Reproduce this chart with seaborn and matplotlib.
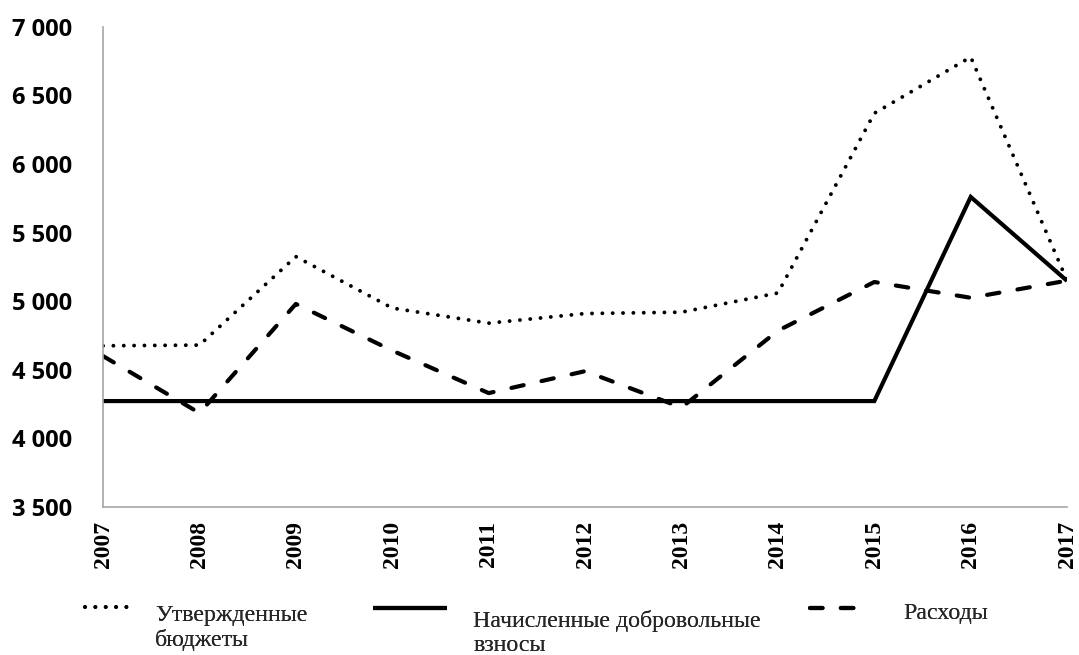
import matplotlib
matplotlib.use("Agg")
import matplotlib.pyplot as plt
import seaborn as sns
import pandas as pd

years = [2007, 2008, 2009, 2010, 2011, 2012, 2013, 2014, 2015, 2016, 2017]
budgets = [4675, 4680, 5325, 4950, 4840, 4910, 4920, 5060, 6370, 6780, 5150]
assessed = [4272, 4272, 4272, 4272, 4272, 4272, 4272, 4272, 4272, 5760, 5148]
expenses = [4600, 4185, 4980, 4640, 4330, 4490, 4225, 4785, 5140, 5025, 5150]

series_names = ["Утвержденные\nбюджеты", "Начисленные добровольные\nвзносы", "Расходы"]
y_ticks = [3500, 4000, 4500, 5000, 5500, 6000, 6500, 7000]
y_tick_labels = ["3 500", "4 000", "4 500", "5 000", "5 500", "6 000", "6 500", "7 000"]

df = pd.concat([
    pd.DataFrame({"year": years, "value": budgets, "series": series_names[0]}),
    pd.DataFrame({"year": years, "value": assessed, "series": series_names[1]}),
    pd.DataFrame({"year": years, "value": expenses, "series": series_names[2]}),
])

sns.set_theme(style="white")
plt.rcParams["font.family"] = ["DejaVu Sans"]

fig = plt.figure(figsize=(10.79, 6.55), dpi=100)
ax = fig.add_axes([0.0955, 0.226, 0.8935, 0.733])

widths = {series_names[0]: 2.8, series_names[1]: 3.0, series_names[2]: 3.0}
dot_pattern = (0.01, 2.65)
dash_pattern = (3.0, 4.4)
dashes = {series_names[0]: dot_pattern, series_names[1]: "", series_names[2]: dash_pattern}

sns.lineplot(data=df, x="year", y="value", style="series", style_order=series_names,
             dashes=dashes, color="black", ax=ax, legend=False,
             dash_capstyle="round", solid_capstyle="butt", solid_joinstyle="miter")

for line, name in zip(ax.lines, series_names):
    line.set_linewidth(widths[name])
    if name == series_names[0]:
        line.set_dashes(dot_pattern)
    elif name == series_names[2]:
        line.set_dashes(dash_pattern)

ax.set_xlim(years[0], years[-1])
ax.set_ylim(3500, 7000)
ax.set_yticks(y_ticks)
ax.set_yticklabels(y_tick_labels, fontfamily="Open Sans", fontweight="bold", fontsize=17)
ax.set_xticks(years)
ax.set_xticklabels([str(y) for y in years], rotation=90, fontfamily="Liberation Serif",
                   fontweight="bold", fontsize=17)
ax.tick_params(axis="y", length=0, pad=22, colors="black")
ax.tick_params(axis="x", length=0, pad=10, colors="black")
for s in ["top", "right"]:
    ax.spines[s].set_visible(False)
for s in ["left", "bottom"]:
    ax.spines[s].set_color("#a6a6a6")
    ax.spines[s].set_linewidth(1.2)
ax.set_xlabel("")
ax.set_ylabel("")
ax.grid(False)

LEG_FS = 17.2
# (series index, left px, top px, handlelength, handletextpad, handle lift px)
legend_specs = [
    (0, 85, 605, 1.8, 1.13, 6.4),
    (1, 373, 610, 3.1, 1.09, 10.4),
    (2, 810, 603, 2.09, 1.8, 3.4),
]
W, H = 1079, 655
for idx, px, py, hl, tp, lift in legend_specs:
    leg = fig.legend([ax.lines[idx]], [series_names[idx]], loc="upper left",
                     bbox_to_anchor=(px / W, 1 - py / H), bbox_transform=fig.transFigure,
                     frameon=False, borderpad=0, borderaxespad=0, handlelength=hl,
                     handletextpad=tp, prop={"family": "Liberation Serif", "size": LEG_FS})
    for t in leg.get_texts():
        t.set_linespacing(1.2)
    for col in leg._legend_handle_box.get_children():
        for item in col.get_children():
            item.align = "top"
    for hnd in leg.legend_handles:
        hnd.set_ydata(hnd.get_ydata() + lift / 1.389)
    fig.add_artist(leg)

fig.savefig("out.png", dpi=100)
